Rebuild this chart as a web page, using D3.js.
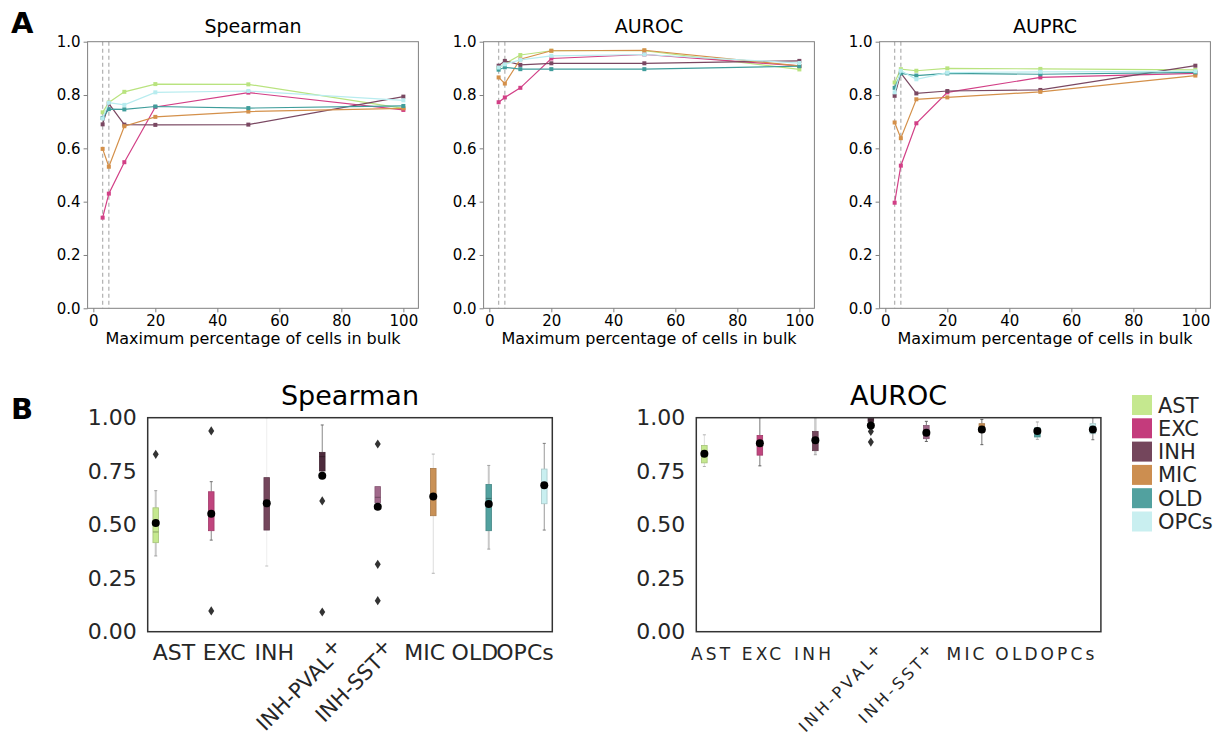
<!DOCTYPE html>
<html><head><meta charset="utf-8">
<script src="https://cdn.jsdelivr.net/npm/d3@7"></script>
<style>body{margin:0;background:#fff;} svg{font-family:"DejaVu Sans",sans-serif;}</style>
</head><body><svg id="c" width="1221" height="740"></svg>
<script>
// ---------- DATA ----------
const lineX = [3, 5, 10, 20, 50, 100];
const markerLines = [3, 5];
const cellTypes = ["AST", "EXC", "INH", "MIC", "OLD", "OPCs"];
const lineTitles = ["Spearman", "AUROC", "AUPRC"];
const lineXTicks = [0, 20, 40, 60, 80, 100];
const lineYTicks = [0, 0.2, 0.4, 0.6, 0.8, 1.0];
// rows follow cellTypes
const spearmanLines = [
  [0.735, 0.772, 0.812, 0.841, 0.840, 0.750],
  [0.340, 0.430, 0.548, 0.755, 0.809, 0.744],
  [0.690, 0.768, 0.689, 0.688, 0.689, 0.794],
  [0.598, 0.531, 0.683, 0.718, 0.738, 0.750],
  [0.714, 0.747, 0.746, 0.757, 0.751, 0.759],
  [0.712, 0.771, 0.763, 0.810, 0.815, 0.780]
];
const aurocLines = [
  [0.901, 0.917, 0.950, 0.966, 0.966, 0.896],
  [0.773, 0.791, 0.827, 0.937, 0.952, 0.909],
  [0.910, 0.928, 0.913, 0.919, 0.919, 0.928],
  [0.866, 0.843, 0.934, 0.966, 0.968, 0.909],
  [0.895, 0.904, 0.897, 0.897, 0.897, 0.908],
  [0.903, 0.915, 0.932, 0.947, 0.952, 0.920]
];
const auprcLines = [
  [0.847, 0.897, 0.891, 0.900, 0.898, 0.894],
  [0.396, 0.535, 0.694, 0.810, 0.866, 0.881],
  [0.797, 0.882, 0.806, 0.815, 0.819, 0.910],
  [0.697, 0.638, 0.784, 0.791, 0.812, 0.873],
  [0.827, 0.881, 0.873, 0.881, 0.878, 0.885],
  [0.810, 0.891, 0.859, 0.884, 0.887, 0.889]
];

const boxCats = ["AST", "EXC", "INH", "INH-PVAL+", "INH-SST+", "MIC", "OLD", "OPCs"];
const rotatedCats = ["INH-PVAL+", "INH-SST+"];
const boxTitles = ["Spearman", "AUROC"];
const boxYTicks = [0, 0.25, 0.5, 0.75, 1.0];
// Spearman box statistics (order follows boxCats)
const spQ1   = [0.416, 0.472, 0.475, 0.751, 0.603, 0.542, 0.472, 0.598];
const spMed  = [0.466, 0.553, 0.584, 0.818, 0.628, 0.632, 0.623, 0.684];
const spQ3   = [0.579, 0.654, 0.720, 0.838, 0.678, 0.763, 0.688, 0.760];
const spLo   = [0.354, 0.428, 0.307, 0.751, 0.603, 0.273, 0.386, 0.475];
const spHi   = [0.659, 0.701, 1.000, 0.966, 0.678, 0.830, 0.777, 0.880];
const spMean = [0.508, 0.551, 0.600, 0.729, 0.584, 0.632, 0.597, 0.684];
const spOut  = [[0.829], [0.938, 0.097], [], [0.611, 0.092], [0.877, 0.315, 0.145], [], [], []];
// AUROC box statistics
const auQ1   = [0.789, 0.825, 0.846, 0.982, 0.902, 0.933, 0.910, 0.925];
const auMed  = [0.830, 0.880, 0.895, 0.990, 0.930, 0.955, 0.940, 0.950];
const auQ3   = [0.870, 0.917, 0.936, 0.997, 0.964, 0.972, 0.952, 0.972];
const auLo   = [0.772, 0.775, 0.827, 0.982, 0.889, 0.874, 0.899, 0.897];
const auHi   = [0.920, 1.000, 1.000, 1.000, 0.983, 0.992, 0.980, 1.000];
const auMean = [0.832, 0.881, 0.895, 0.964, 0.930, 0.945, 0.938, 0.945];
const auOut  = [[], [], [], [0.936, 0.886], [], [], [], []];

// ---------- STYLE ----------
const lineColors = {AST:"#b9e37f", EXC:"#d23f86", INH:"#7a4862", MIC:"#d4904a", OLD:"#3f9d9b", OPCs:"#b8ecef"};
const legendColors = {AST:"#c5e88f", EXC:"#c43b7c", INH:"#74465c", MIC:"#cc8e50", OLD:"#52a19f", OPCs:"#c9eff0"};
const boxColors = ["#c5e88f", "#c0457e", "#74465c", "#4d2b3c", "#a0688a", "#c99156", "#52a19f", "#c9eff0"];
const spWhisk = [["#c8c8c8",2],["#888",1],["#eee",1],["#888",1],["#999",0],["#ddd",1],["#c8c8c8",2],["#999",1]];
const auWhisk = [["#ddd",1],["#777",1],["#ccc",2.5],["#666",1],["#777",1],["#777",1],["#ccc",1],["#888",1]];

const svg = d3.select("#c");

// ---------- PANEL A ----------
const lineSets = [spearmanLines, aurocLines, auprcLines];
const aLefts = [87.6, 483.6, 879.6];
const aW = 330.8, aTop = 41.7, aBottom = 308.3;

lineSets.forEach((vals, pi) => {
  const left = aLefts[pi];
  const x = d3.scaleLinear().domain([-1.85, 104.85]).range([left, left + aW]);
  const y = d3.scaleLinear().domain([0, 1]).range([aBottom, aTop]);
  const g = svg.append("g");

  g.selectAll(".vl").data(markerLines).join("line")
    .attr("x1", d => x(d)).attr("x2", d => x(d))
    .attr("y1", aTop).attr("y2", aBottom)
    .attr("stroke", "#b5b5b5").attr("stroke-width", 1.3).attr("stroke-dasharray", "4,3");

  const line = d3.line().x((d, i) => x(lineX[i])).y(d => y(d));
  vals.forEach((row, ci) => {
    const col = lineColors[cellTypes[ci]];
    g.append("path").datum(row).attr("d", line)
      .attr("fill", "none").attr("stroke", col).attr("stroke-width", 1.2);
    g.selectAll(null).data(row).join("rect")
      .attr("x", (d, i) => x(lineX[i]) - 2).attr("y", d => y(d) - 2)
      .attr("width", 4).attr("height", 4).attr("fill", col);
  });

  const xa = g.append("g").attr("transform", `translate(0,${aBottom})`)
    .call(d3.axisBottom(x).tickValues(lineXTicks).tickSize(4).tickPadding(3));
  const ya = g.append("g").attr("transform", `translate(${left},0)`)
    .call(d3.axisLeft(y).tickValues(lineYTicks).tickFormat(d3.format(".1f")).tickSize(4).tickPadding(3));
  [xa, ya].forEach(a => {
    a.select(".domain").remove();
    a.selectAll("line").attr("stroke", "#808080");
    a.selectAll("text").attr("fill", "#000").style("font-size", "15px").style("font-family", "DejaVu Sans");
  });

  g.append("rect").attr("x", left).attr("y", aTop).attr("width", aW).attr("height", aBottom - aTop)
    .attr("fill", "none").attr("stroke", "#808080").attr("stroke-width", 1);

  g.append("text").attr("x", left + aW / 2).attr("y", 33).attr("text-anchor", "middle")
    .style("font-size", "19px").attr("fill", "#000").text(lineTitles[pi]);
  g.append("text").attr("x", left + aW / 2).attr("y", 344).attr("text-anchor", "middle")
    .style("font-size", "16px").attr("fill", "#000").text("Maximum percentage of cells in bulk");
});

svg.append("text").attr("x", 11).attr("y", 33).style("font-size", "29px").style("font-weight", "bold").text("A");
svg.append("text").attr("x", 11).attr("y", 419).style("font-size", "29px").style("font-weight", "bold").text("B");

// ---------- PANEL B ----------
const bLefts = [147.7, 696.3];
const bW = 404.6, bTop = 417.7, bBottom = 631.7;
const boxSets = [
  {q1: spQ1, med: spMed, q3: spQ3, lo: spLo, hi: spHi, mean: spMean, out: spOut, wh: spWhisk,
   labelRange: [26.3, 377.3], fs: 22, rfs: 21, ls: 0, rotEnd: 22},
  {q1: auQ1, med: auMed, q3: auQ3, lo: auLo, hi: auHi, mean: auMean, out: auOut, wh: auWhisk,
   labelRange: [14.2, 371.2], fs: 17, rfs: 16, ls: 3.2, rotEnd: 24}
];

boxSets.forEach((S, pi) => {
  const left = bLefts[pi];
  const x = d3.scalePoint().domain(boxCats).range([left, left + bW]).padding(0.145);
  const lx = d3.scalePoint().domain(boxCats).range([left + S.labelRange[0], left + S.labelRange[1]]);
  const y = d3.scaleLinear().domain([0, 1]).range([bBottom, bTop]);
  const g = svg.append("g");
  const bw = 5.6;

  boxCats.forEach((c, i) => {
    const cx = x(c);
    const [wc, ww] = S.wh[i];
    if (ww > 0) {
      g.append("line").attr("x1", cx).attr("x2", cx).attr("y1", y(S.lo[i])).attr("y2", y(S.q1[i]))
        .attr("stroke", wc).attr("stroke-width", ww);
      g.append("line").attr("x1", cx).attr("x2", cx).attr("y1", y(S.q3[i])).attr("y2", y(S.hi[i]))
        .attr("stroke", wc).attr("stroke-width", ww);
      [S.lo[i], S.hi[i]].forEach(v => g.append("line").attr("x1", cx - 1.5).attr("x2", cx + 1.5)
        .attr("y1", y(v)).attr("y2", y(v)).attr("stroke", d3.color(wc).darker(0.6)).attr("stroke-width", 1));
    }
    const col = d3.color(boxColors[i]);
    g.append("rect").attr("x", cx - bw / 2).attr("y", y(S.q3[i])).attr("width", bw)
      .attr("height", Math.max(1, y(S.q1[i]) - y(S.q3[i])))
      .attr("fill", col).attr("stroke", col.darker(0.5)).attr("stroke-width", 0.8);
    g.append("line").attr("x1", cx - bw / 2).attr("x2", cx + bw / 2)
      .attr("y1", y(S.med[i])).attr("y2", y(S.med[i])).attr("stroke", col.darker(1)).attr("stroke-width", 1);
    S.out[i].forEach(v => g.append("path")
      .attr("d", "M0,-4.6L3,0L0,4.6L-3,0Z").attr("transform", `translate(${cx},${y(v)})`).attr("fill", "#333"));
    g.append("circle").attr("cx", cx).attr("cy", y(S.mean[i])).attr("r", 4).attr("fill", "#000");
  });

  g.append("rect").attr("x", left).attr("y", bTop).attr("width", bW).attr("height", bBottom - bTop)
    .attr("fill", "none").attr("stroke", "#333").attr("stroke-width", 1.5);

  const ya = g.append("g").attr("transform", `translate(${left},0)`)
    .call(d3.axisLeft(y).tickValues(boxYTicks).tickFormat(d3.format(".2f")).tickSize(0).tickPadding(11));
  ya.select(".domain").remove();
  ya.selectAll("text").attr("fill", "#262626").style("font-size", "22px").style("font-family", "DejaVu Sans");

  boxCats.forEach(c => {
    if (rotatedCats.includes(c)) {
      const ax = lx(c) + S.rotEnd, ay = 651;
      const t = g.append("text").attr("transform", `translate(${ax},${ay}) rotate(-45)`)
        .attr("text-anchor", "end").attr("fill", "#262626")
        .style("font-size", S.rfs + "px").style("letter-spacing", S.ls + "px");
      t.append("tspan").text(c.slice(0, -1));
      t.append("tspan").attr("dy", "-0.3em").text(c.slice(-1));
    } else {
      g.append("text").attr("x", lx(c) + S.ls / 2).attr("y", 660).attr("text-anchor", "middle")
        .attr("fill", "#262626").style("font-size", S.fs + "px").style("letter-spacing", S.ls + "px").text(c);
    }
  });

  g.append("text").attr("x", left + bW / 2).attr("y", 405).attr("text-anchor", "middle")
    .style("font-size", "27px").attr("fill", "#000").text(boxTitles[pi]);
});

// legend
const lg = svg.append("g");
const ly = d3.scalePoint().domain(cellTypes).range([395, 395 + 23.3 * 5]);
cellTypes.forEach(c => {
  lg.append("rect").attr("x", 1132).attr("y", ly(c)).attr("width", 20).attr("height", 20).attr("fill", legendColors[c]);
  lg.append("text").attr("x", 1158).attr("y", ly(c) + 10).attr("dy", "0.36em")
    .style("font-size", "21px").attr("fill", "#262626").text(c);
});
</script></body></html>
